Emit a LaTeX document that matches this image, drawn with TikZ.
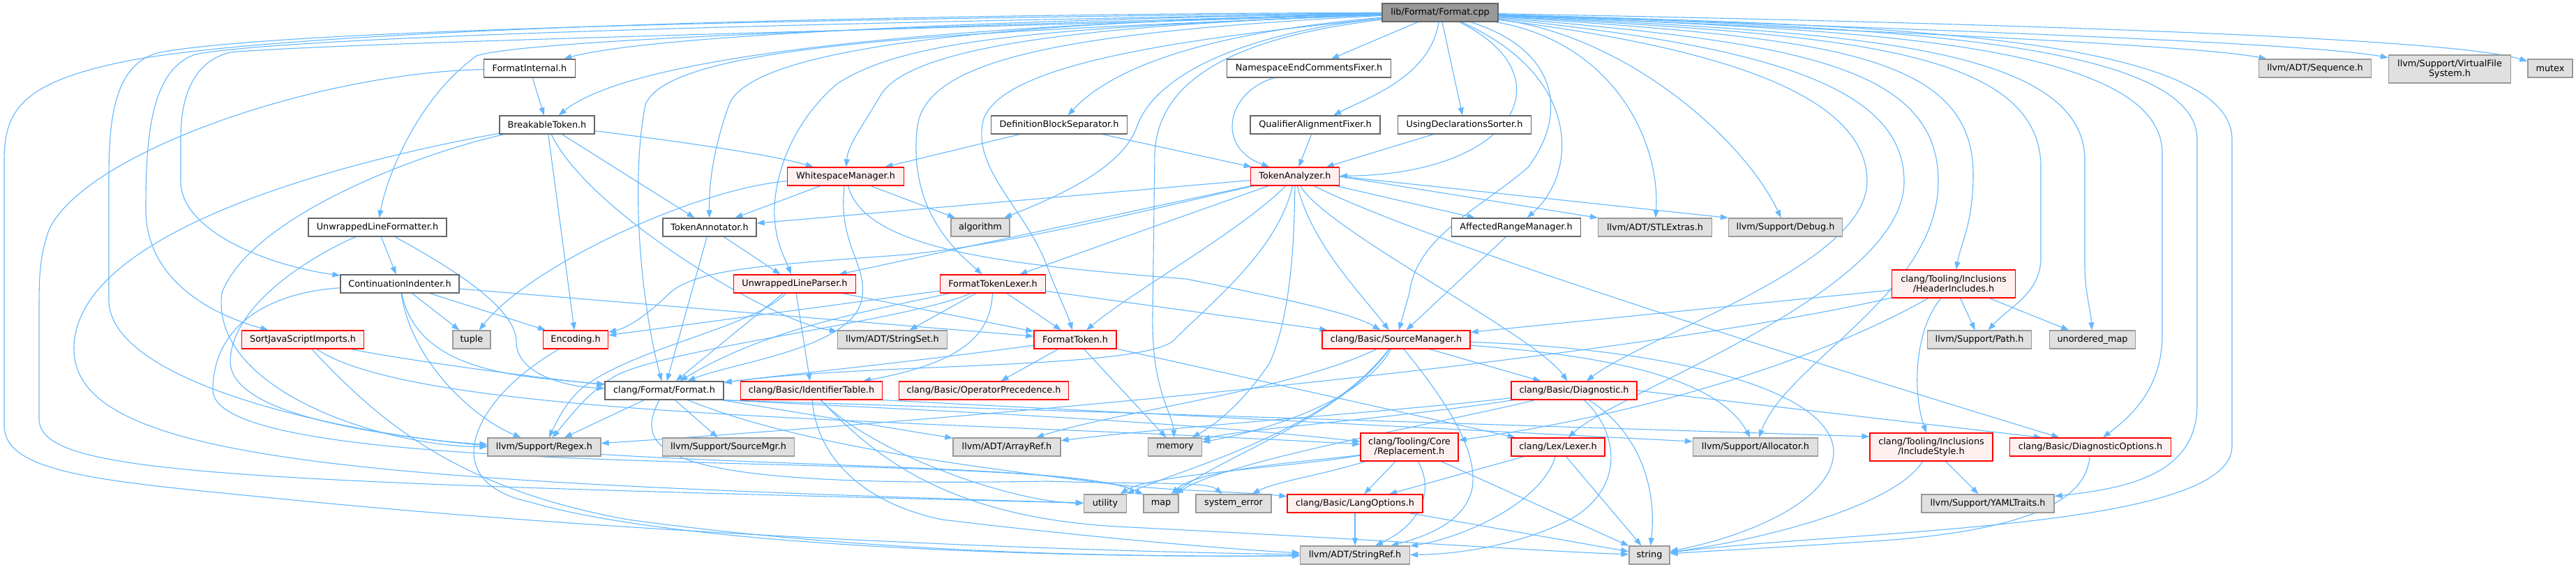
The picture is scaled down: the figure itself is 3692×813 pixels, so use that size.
\documentclass[tikz,border=0pt]{standalone}
\usepackage{fontspec}
\setmainfont{DejaVu Sans}
\usetikzlibrary{arrows.meta,backgrounds}
\definecolor{edgec}{HTML}{63B8FF}
\definecolor{rootfill}{HTML}{999999}
\definecolor{rootdraw}{HTML}{666666}
\definecolor{plaindraw}{HTML}{666666}
\definecolor{redfill}{HTML}{FFF0F0}
\definecolor{reddraw}{HTML}{FF0000}
\definecolor{grayfill}{HTML}{E0E0E0}
\definecolor{graydraw}{HTML}{999999}
\tikzset{
  edg/.style={draw=edgec, line width=1.1pt, -{Triangle[length=11pt,width=8pt]}},
  box/.style={line width=1.3pt, inner sep=0pt, minimum height=26pt, align=center,
    font=\fontsize{12.8}{14.5}\selectfont},
  rootnode/.style={box, fill=rootfill, draw=rootdraw},
  pnode/.style={box, fill=white, draw=plaindraw},
  rnode/.style={box, fill=redfill, draw=reddraw},
  gnode/.style={box, fill=grayfill, draw=graydraw},
}
\begin{document}
\begin{tikzpicture}[x=1pt,y=-1pt]
\useasboundingbox (0,0) rectangle (3692,813);
% nodes
\node[rootnode, minimum width=166pt] (cpp) at (2064,18) {lib/Format/Format.cpp};
\node[pnode, minimum width=131pt] (FI) at (759,98) {FormatInternal.h};
\node[pnode, minimum width=136pt] (BT) at (784,179) {BreakableToken.h};
\node[pnode, minimum width=198pt] (ULF) at (541,326) {UnwrappedLineFormatter.h};
\node[pnode, minimum width=170pt] (CI) at (573,407) {ContinuationIndenter.h};
\node[rnode, minimum width=167pt] (WM) at (1212,253) {WhitespaceManager.h};
\node[pnode, minimum width=195pt] (DBS) at (1518,179) {DefinitionBlockSeparator.h};
\node[pnode, minimum width=235pt] (NECF) at (1876,98) {NamespaceEndCommentsFixer.h};
\node[pnode, minimum width=186pt] (QAF) at (1885,179) {QualifierAlignmentFixer.h};
\node[pnode, minimum width=134pt] (TAnn) at (1017,326) {TokenAnnotator.h};
\node[gnode, minimum width=84pt] (algo) at (1405,326) {algorithm};
\node[rnode, minimum width=127pt] (TAna) at (1856,253) {TokenAnalyzer.h};
\node[rnode, minimum width=175pt] (ULP) at (1139,407) {UnwrappedLineParser.h};
\node[rnode, minimum width=151pt] (FTL) at (1423,407) {FormatTokenLexer.h};
\node[pnode, minimum width=191pt] (UDS) at (2099,179) {UsingDeclarationsSorter.h};
\node[pnode, minimum width=185pt] (ARM) at (2173,326) {AffectedRangeManager.h};
\node[gnode, minimum width=163pt] (STL) at (2372,326) {llvm/ADT/STLExtras.h};
\node[gnode, minimum width=163pt] (Debug) at (2559,326) {llvm/Support/Debug.h};
\node[rnode, minimum width=177pt, minimum height=40pt] (HI) at (2800,407) {clang/Tooling/Inclusions\\/HeaderIncludes.h};
\node[gnode, minimum width=161pt] (Seq) at (3318,98) {llvm/ADT/Sequence.h};
\node[gnode, minimum width=175pt, minimum height=40pt] (VFS) at (3511,99) {llvm/Support/VirtualFile\\System.h};
\node[gnode, minimum width=64pt] (mutex) at (3655,98) {mutex};
\node[rnode, minimum width=175pt] (SJI) at (434,487) {SortJavaScriptImports.h};
\node[gnode, minimum width=54pt] (tuple) at (676,487) {tuple};
\node[rnode, minimum width=93pt] (Enc) at (825,487) {Encoding.h};
\node[pnode, minimum width=170pt] (FH) at (952,560) {clang/Format/Format.h};
\node[gnode, minimum width=162pt] (Regex) at (780,641) {llvm/Support/Regex.h};
\node[gnode, minimum width=157pt] (StrSet) at (1279,487) {llvm/ADT/StringSet.h};
\node[rnode, minimum width=118pt] (FT) at (1541,487) {FormatToken.h};
\node[rnode, minimum width=203pt] (IdT) at (1163,560) {clang/Basic/IdentifierTable.h};
\node[rnode, minimum width=243pt] (OpP) at (1410,560) {clang/Basic/OperatorPrecedence.h};
\node[gnode, minimum width=189pt] (SMgr) at (1044,641) {llvm/Support/SourceMgr.h};
\node[gnode, minimum width=154pt] (AR) at (1443,641) {llvm/ADT/ArrayRef.h};
\node[gnode, minimum width=77pt] (memory) at (1684,641) {memory};
\node[gnode, minimum width=61pt] (utility) at (1584,722) {utility};
\node[gnode, minimum width=50pt] (map) at (1664,722) {map};
\node[gnode, minimum width=108pt] (syserr) at (1768,722) {system\_error};
\node[rnode, minimum width=212pt] (SM) at (2001,487) {clang/Basic/SourceManager.h};
\node[rnode, minimum width=180pt] (Diag) at (2256,560) {clang/Basic/Diagnostic.h};
\node[rnode, minimum width=140pt, minimum height=40pt] (Repl) at (2020,641) {clang/Tooling/Core\\/Replacement.h};
\node[rnode, minimum width=134pt] (Lexer) at (2233,641) {clang/Lex/Lexer.h};
\node[gnode, minimum width=179pt] (Alloc) at (2516,641) {llvm/Support/Allocator.h};
\node[rnode, minimum width=176pt, minimum height=40pt] (IS) at (2768,641) {clang/Tooling/Inclusions\\/IncludeStyle.h};
\node[rnode, minimum width=194pt] (LO) at (1942,722) {clang/Basic/LangOptions.h};
\node[gnode, minimum width=157pt] (SR) at (1942,796) {llvm/ADT/StringRef.h};
\node[gnode, minimum width=58pt] (string) at (2364,796) {string};
\node[gnode, minimum width=149pt] (Path) at (2837,487) {llvm/Support/Path.h};
\node[gnode, minimum width=190pt] (YAML) at (2849,722) {llvm/Support/YAMLTraits.h};
\node[gnode, minimum width=123pt] (UM) at (2999,487) {unordered\_map};
\node[rnode, minimum width=231pt] (DO) at (2996,641) {clang/Basic/DiagnosticOptions.h};

\begin{scope}[on background layer]
\fill[white] (0,0) rectangle (3692,813);
% ---- Format.cpp, right side
\draw[edg] (cpp) -- (NECF);
\draw[edg] (cpp) .. controls (2050,110) and (1960,140) .. (QAF);
\draw[edg] (cpp) -- (UDS);
\draw[edg] (cpp) .. controls (2250,110) and (2170,250) .. (TAna);
\draw[edg] (cpp) .. controls (2270,110) and (2260,250) .. (ARM);
\draw[edg] (cpp) .. controls (2310,60) and (2380,200) .. (STL);
\draw[edg] (cpp) .. controls (2330,50) and (2500,200) .. (Debug);
\draw[edg] (cpp) .. controls (2230,70) and (2250,160) .. (2190,240) .. controls (2120,300) and (2030,340) .. (2020,420) -- (SM);
\draw[edg] (cpp) .. controls (2700,30) and (3500,50) .. (mutex);
\draw[edg] (cpp) .. controls (2700,40) and (3300,60) .. (VFS);
\draw[edg] (cpp) .. controls (2700,45) and (3150,65) .. (Seq);
\draw[edg] (cpp) .. controls (2600,35) and (3199,40) .. (3199,200) -- (3199,640) .. controls (3199,760) and (2650,760) .. (string);
\draw[edg] (cpp) .. controls (2600,38) and (3149,45) .. (3149,200) -- (3149,580) .. controls (3149,680) and (3050,700) .. (YAML);
\draw[edg] (cpp) .. controls (2600,42) and (3099,50) .. (3099,220) -- (3099,480) .. controls (3099,560) and (3050,600) .. (DO);
\draw[edg] (cpp) .. controls (2600,46) and (2988,55) .. (2988,230) -- (2988,380) .. controls (2988,420) and (2996,440) .. (UM);
\draw[edg] (cpp) .. controls (2600,50) and (2925,60) .. (2925,240) -- (2925,370) .. controls (2925,420) and (2880,440) .. (Path);
\draw[edg] (cpp) .. controls (2600,55) and (2828,70) .. (2828,250) .. controls (2828,320) and (2810,350) .. (HI);
\draw[edg] (cpp) .. controls (2560,60) and (2778,90) .. (2778,260) .. controls (2778,420) and (2560,520) .. (Alloc);
\draw[edg] (cpp) .. controls (2520,65) and (2729,120) .. (2729,260) .. controls (2729,420) and (2320,560) .. (Lexer);
\draw[edg] (cpp) .. controls (2480,70) and (2676,140) .. (2676,260) .. controls (2676,380) and (2360,480) .. (Diag);
% ---- Format.cpp, left side
\draw[edg] (cpp) .. controls (1600,25) and (950,45) .. (FI);
\draw[edg] (cpp) .. controls (1550,30) and (930,60) .. (BT);
\draw[edg] (cpp) .. controls (1400,35) and (760,55) .. (683,80) .. controls (600,140) and (555,250) .. (ULF);
\draw[edg] (cpp) .. controls (1400,40) and (500,60) .. (330,75) .. controls (270,90) and (259,150) .. (259,200) -- (259,260) .. controls (259,330) and (380,380) .. (CI);
\draw[edg] (cpp) .. controls (1300,20) and (400,40) .. (170,90) .. controls (30,120) and (6,160) .. (6,230) -- (6,610) .. controls (6,680) and (150,690) .. (400,715) .. controls (900,765) and (1500,790) .. (SR);
\draw[edg] (cpp) .. controls (1300,25) and (420,40) .. (230,75) .. controls (160,90) and (156,180) .. (156,260) -- (156,430) .. controls (156,560) and (550,630) .. (Regex);
\draw[edg] (cpp) .. controls (1300,30) and (420,50) .. (280,78) .. controls (215,100) and (209,200) .. (209,300) .. controls (209,400) and (300,450) .. (SJI);
\draw[edg] (cpp) .. controls (1600,35) and (1300,60) .. (1260,140) .. controls (1230,190) and (1215,210) .. (WM);
\draw[edg] (cpp) .. controls (1500,30) and (1080,60) .. (1045,150) .. controls (1020,220) and (1016,270) .. (TAnn);
\draw[edg] (cpp) .. controls (1500,40) and (1300,55) .. (1200,120) .. controls (1130,180) and (1108,260) .. (1110,310) .. controls (1112,350) and (1125,370) .. (ULP);
\draw[edg] (cpp) .. controls (1550,45) and (1330,80) .. (1315,180) .. controls (1300,300) and (1370,360) .. (FTL);
\draw[edg] (cpp) .. controls (1750,45) and (1600,90) .. (DBS);
\draw[edg] (cpp) .. controls (1800,45) and (1660,100) .. (1630,180) .. controls (1610,240) and (1520,280) .. (algo);
\draw[edg] (cpp) .. controls (1800,50) and (1660,100) .. (1655,220) -- (1652,450) .. controls (1650,560) and (1680,590) .. (memory);
\draw[edg] (cpp) .. controls (1700,55) and (1440,90) .. (1410,170) .. controls (1390,240) and (1470,300) .. (1500,380) .. controls (1515,420) and (1530,450) .. (FT);
\draw[edg] (cpp) .. controls (1400,45) and (960,60) .. (925,150) .. controls (905,250) and (915,420) .. (FH);
% ---- FormatInternal / BreakableToken
\draw[edg] (FI) -- (BT);
\draw[edg] (FI) .. controls (450,105) and (120,220) .. (70,330) .. controls (56,370) and (56,400) .. (56,450) -- (56,600) .. controls (56,680) and (300,690) .. (utility);
\draw[edg] (BT) -- (Enc);
\draw[edg] (BT) -- (TAnn);
\draw[edg] (BT) .. controls (950,200) and (1100,220) .. (WM);
\draw[edg] (BT) .. controls (840,300) and (1100,460) .. (StrSet);
\draw[edg] (BT) .. controls (500,230) and (106,330) .. (106,500) .. controls (106,660) and (500,690) .. (utility);
\draw[edg] (BT) .. controls (600,220) and (360,310) .. (318,420) .. controls (300,560) and (550,640) .. (Regex);
% ---- UnwrappedLineFormatter / ContinuationIndenter
\draw[edg] (ULF) -- (CI);
\draw[edg] (ULF) .. controls (640,380) and (740,440) .. (740,490) .. controls (740,540) and (820,555) .. (FH);
\draw[edg] (ULF) .. controls (440,370) and (330,440) .. (330,520) .. controls (340,700) and (1500,640) .. (map);
\draw[edg] (CI) -- (Enc);
\draw[edg] (CI) -- (tuple);
\draw[edg] (CI) .. controls (590,520) and (680,600) .. (Regex);
\draw[edg] (CI) .. controls (600,540) and (760,540) .. (FH);
\draw[edg] (CI) -- (FT);
\draw[edg] (CI) .. controls (380,420) and (305,470) .. (305,560) .. controls (310,700) and (1500,640) .. (map);
% ---- SortJavaScriptImports / Encoding
\draw[edg] (SJI) .. controls (600,520) and (800,545) .. (FH);
\draw[edg] (SJI) .. controls (600,600) and (1300,600) .. (Repl);
\draw[edg] (SJI) .. controls (540,600) and (650,700) .. (900,745) .. controls (1300,800) and (1700,798) .. (SR);
\draw[edg] (Enc) .. controls (680,570) and (620,690) .. (760,720) .. controls (1000,790) and (1600,800) .. (SR);
% ---- WhitespaceManager / TokenAnnotator
\draw[edg] (WM) -- (TAnn);
\draw[edg] (WM) -- (algo);
\draw[edg] (WM) .. controls (1000,270) and (760,380) .. (tuple);
\draw[edg] (WM) .. controls (1200,350) and (1245,380) .. (1235,430) .. controls (1220,500) and (1050,520) .. (FH);
\draw[edg] (WM) .. controls (1240,360) and (1450,380) .. (1700,400) .. controls (1850,430) and (1940,450) .. (SM);
\draw[edg] (TAnn) -- (ULP);
\draw[edg] (TAnn) -- (FH);
% ---- TokenAnalyzer
\draw[edg] (TAna) -- (TAnn);
\draw[edg] (TAna) -- (ULP);
\draw[edg] (TAna) -- (FTL);
\draw[edg] (TAna) .. controls (1650,300) and (1450,350) .. (1300,365) .. controls (1100,380) and (1000,385) .. (960,420) .. controls (930,450) and (900,470) .. (Enc);
\draw[edg] (TAna) .. controls (1780,330) and (1620,420) .. (FT);
\draw[edg] (TAna) .. controls (1855,350) and (1850,450) .. (1820,520) .. controls (1780,580) and (1740,610) .. (memory);
\draw[edg] (TAna) .. controls (1880,350) and (1950,420) .. (SM);
\draw[edg] (TAna) .. controls (1900,330) and (2200,480) .. (Diag);
\draw[edg] (TAna) .. controls (2050,350) and (2600,520) .. (DO);
\draw[edg] (TAna) -- (ARM);
\draw[edg] (TAna.east) -- (STL.north west);
\draw[edg] (TAna.east) -- (Debug.north west);
\draw[edg] (TAna) .. controls (1830,360) and (1740,430) .. (1680,490) .. controls (1620,530) and (1250,520) .. (FH);
% ---- UnwrappedLineParser / FormatTokenLexer
\draw[edg] (ULP) -- (FT);
\draw[edg] (ULP) -- (IdT);
\draw[edg] (ULP) -- (FH);
\draw[edg] (ULP) .. controls (1080,470) and (900,500) .. (830,560) .. controls (810,580) and (800,600) .. (Regex);
\draw[edg] (FTL) -- (StrSet);
\draw[edg] (FTL) -- (FT);
\draw[edg] (FTL) .. controls (1420,480) and (1380,520) .. (IdT);
\draw[edg] (FTL) -- (Enc);
\draw[edg] (FTL) .. controls (1250,445) and (1100,470) .. (FH);
\draw[edg] (FTL) .. controls (1300,460) and (950,500) .. (880,540) .. controls (840,565) and (815,600) .. (Regex);
\draw[edg] (FTL) -- (SM);
% ---- FormatToken
\draw[edg] (FT) .. controls (1300,520) and (1100,540) .. (FH);
\draw[edg] (FT) -- (OpP);
\draw[edg] (FT) -- (memory);
\draw[edg] (FT) -- (Lexer);
% ---- IdentifierTable
\draw[edg] (IdT) .. controls (1170,650) and (1230,720) .. (1350,745) .. controls (1600,775) and (1800,790) .. (SR);
\draw[edg] (IdT) .. controls (1250,650) and (1450,720) .. (utility);
\draw[edg] (IdT) .. controls (1250,650) and (1350,740) .. (1600,755) .. controls (2000,775) and (2200,790) .. (string);
\draw[edg] (IdT.south east) -- ([yshift=8pt]Alloc.west);
% ---- clang/Format/Format.h
\draw[edg] (FH) -- (SMgr);
\draw[edg] (FH) -- (AR);
\draw[edg] (FH) -- (Regex);
\draw[edg] (FH) .. controls (1150,640) and (1400,670) .. (1600,695) .. controls (1700,705) and (1780,705) .. (LO);
\draw[edg] (FH.south east) .. controls (1250,585) and (1650,600) .. (Repl);
\draw[edg] (FH.south east) -- ([yshift=15pt]IS.west);
\draw[edg] (FH) .. controls (905,650) and (950,700) .. (1500,690) .. controls (1650,695) and (1730,690) .. (syserr);
% ---- SourceManager
\draw[edg] (SM) -- (Diag);
\draw[edg] (SM) .. controls (2300,510) and (2460,540) .. (Alloc);
\draw[edg] (SM) .. controls (2400,500) and (2630,560) .. (2628,650) .. controls (2625,720) and (2500,770) .. (string);
\draw[edg] (SM) .. controls (2060,560) and (2120,640) .. (2110,700) .. controls (2100,750) and (2040,770) .. (SR);
\draw[edg] (SM) .. controls (1950,580) and (1800,620) .. (memory);
\draw[edg] (SM) .. controls (1920,600) and (1760,650) .. (map);
\draw[edg] (SM) .. controls (1850,560) and (1600,590) .. (AR);
\draw[edg] (SM) .. controls (1900,620) and (1700,670) .. (utility);
% ---- Diagnostic
\draw[edg] (Diag.east) -- ([xshift=-70pt]DO.north);
\draw[edg] (Diag) .. controls (2320,620) and (2330,700) .. (2250,745) .. controls (2170,785) and (2080,795) .. (SR);
\draw[edg] (Diag) .. controls (2350,620) and (2375,700) .. (string);
\draw[edg] (Diag) .. controls (2000,590) and (1700,610) .. (AR);
\draw[edg] (Diag) .. controls (2000,600) and (1780,615) .. (memory);
\draw[edg] (Diag) .. controls (2050,610) and (1760,660) .. (map);
% ---- Replacement / Lexer / LangOptions
\draw[edg] (Repl) -- (LO);
\draw[edg] (Repl) .. controls (2055,700) and (2040,750) .. (SR);
\draw[edg] (Repl) -- (string);
\draw[edg] (Repl) .. controls (1900,660) and (1720,670) .. (map);
\draw[edg] (Repl) .. controls (1850,670) and (1650,680) .. (utility);
\draw[edg] (Repl) .. controls (1900,680) and (1830,690) .. (syserr);
\draw[edg] (Lexer) -- (LO);
\draw[edg] (Lexer) .. controls (2210,720) and (2100,770) .. (SR);
\draw[edg] (Lexer) -- (string);
\draw[edg] (LO) -- (SR);
\draw[edg] (LO) -- (string);
% ---- IncludeStyle / HeaderIncludes
\draw[edg] (IS) -- (YAML);
\draw[edg] (IS) .. controls (2720,720) and (2550,770) .. (string);
\draw[edg] (HI) -- (SM);
\draw[edg] (HI) .. controls (2300,520) and (1400,600) .. (Regex);
\draw[edg] (HI) .. controls (2600,520) and (2350,595) .. (Repl);
\draw[edg] (HI) .. controls (2745,470) and (2740,560) .. (IS);
\draw[edg] (HI) -- (Path);
\draw[edg] (HI) -- (UM);
% ---- misc
\draw[edg] (ARM) -- (SM);
\draw[edg] (DBS) -- (WM);
\draw[edg] (DBS) -- (TAna);
\draw[edg] (NECF) .. controls (1760,130) and (1740,210) .. (TAna);
\draw[edg] (QAF) -- (TAna);
\draw[edg] (UDS) -- (TAna);
\draw[edg] (DO) .. controls (2990,720) and (2900,760) .. (2700,775) .. controls (2550,785) and (2450,790) .. (string);
\end{scope}
\end{tikzpicture}
\end{document}
